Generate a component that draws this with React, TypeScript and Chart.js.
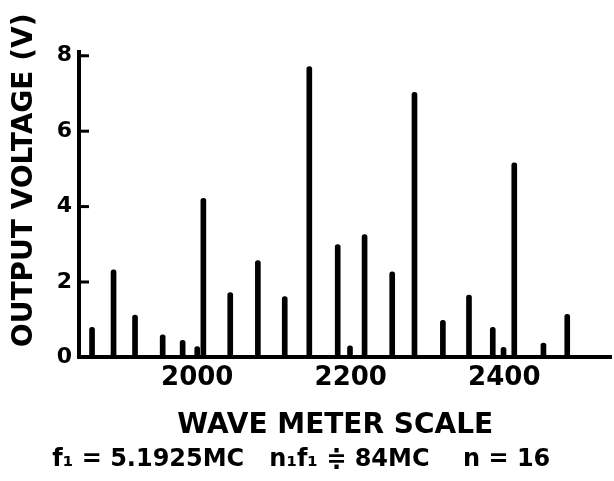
import React, { useEffect, useRef } from 'react';
import { Chart, registerables } from 'chart.js';

Chart.register(...registerables);

const waveMeter = [1863, 1891, 1919, 1955, 1981, 2000, 2008, 2043, 2079, 2114, 2146, 2183, 2199, 2218, 2254, 2283, 2320, 2354, 2385, 2399, 2413, 2451, 2482];
const voltage = [0.8, 2.32, 1.12, 0.6, 0.45, 0.29, 4.22, 1.72, 2.57, 1.61, 7.71, 2.99, 0.31, 3.26, 2.27, 7.03, 0.98, 1.65, 0.8, 0.27, 5.16, 0.38, 1.14];
const xTicks = [2000, 2200, 2400];
const yTicks = [0, 2, 4, 6, 8];

const FONT = 'DejaVu Sans';

export default function App() {
  const ref = useRef<HTMLCanvasElement>(null);

  useEffect(() => {
    document.body.style.margin = '0';
    const yTickMarks = {
      id: 'yTickMarks',
      afterDraw(chart: any) {
        const y = chart.scales.y;
        const ctx = chart.ctx;
        const left = chart.chartArea.left;
        ctx.save();
        ctx.strokeStyle = '#000';
        ctx.lineWidth = 3;
        yTicks.forEach((v) => {
          if (v === 0) return;
          const py = y.getPixelForValue(v);
          ctx.beginPath();
          ctx.moveTo(left, py);
          ctx.lineTo(left + 10, py);
          ctx.stroke();
        });
        ctx.restore();
      },
    };

    const chart = new Chart(ref.current as HTMLCanvasElement, {
      type: 'bar',
      data: {
        datasets: [
          {
            data: waveMeter.map((x, i) => ({ x, y: voltage[i] })),
            backgroundColor: '#000',
            borderWidth: 0,
            barThickness: 5,
            borderRadius: { topLeft: 2.5, topRight: 2.5, bottomLeft: 0, bottomRight: 0 },
            borderSkipped: 'bottom',
          } as any,
        ],
      },
      options: {
        responsive: false,
        animation: false,
        layout: { padding: { top: 52, right: 3, left: 0, bottom: 1 } },
        plugins: {
          legend: { display: false },
          tooltip: { enabled: false },
          title: {
            display: true,
            position: 'bottom',
            text: 'f₁ = 5.1925MC   n₁f₁ ≑ 84MC    n = 16 ',
            color: '#000',
            font: { family: FONT, size: 24, weight: 'bold' },
            padding: { top: 2, bottom: 6 },
          },
        },
        scales: {
          x: {
            type: 'linear',
            min: 1846,
            max: 2539,
            offset: false,
            grid: { display: false, drawTicks: false },
            border: { display: true, color: '#000', width: 4 },
            afterBuildTicks: (s: any) => {
              s.ticks = xTicks.map((v) => ({ value: v }));
            },
            ticks: {
              color: '#000',
              font: { family: FONT, size: 26, weight: 'bold' },
              padding: 5,
              maxRotation: 0,
              autoSkip: false,
              callback: (v: any) => String(v),
            },
            title: {
              display: true,
              text: 'WAVE METER SCALE  ',
              color: '#000',
              font: { family: FONT, size: 28, weight: 'bold' },
              padding: { top: 10, bottom: 1 },
            },
          },
          y: {
            min: 0,
            max: 8.1,
            grid: { display: false, drawTicks: false },
            border: { display: true, color: '#000', width: 4 },
            afterBuildTicks: (s: any) => {
              s.ticks = yTicks.map((v) => ({ value: v }));
            },
            afterFit: (s: any) => {
              s.width = 79;
            },
            ticks: {
              color: '#000',
              font: { family: FONT, size: 22, weight: 'bold' },
              padding: 7,
              callback: (v: any) => String(v),
            },
            title: {
              display: true,
              text: '     OUTPUT VOLTAGE (V)',
              color: '#000',
              font: { family: FONT, size: 28, weight: 'bold' },
              padding: { top: 8, bottom: 0 },
            },
          },
        },
      } as any,
      plugins: [yTickMarks],
    });
    return () => chart.destroy();
  }, []);

  return (
    <div style={{ width: 614, height: 481, background: '#fff' }}>
      <canvas ref={ref} width={614} height={481} style={{ display: 'block' }} />
    </div>
  );
}
